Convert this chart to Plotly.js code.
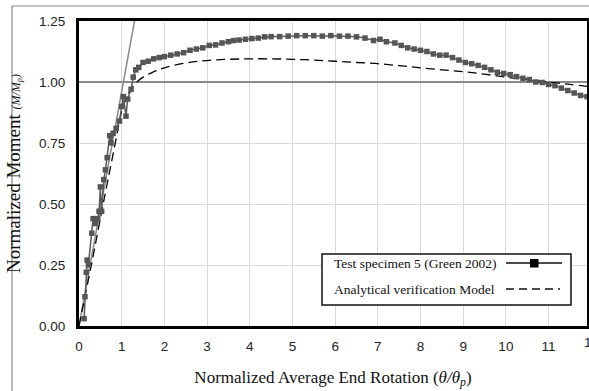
<!DOCTYPE html>
<html>
<head>
<meta charset="utf-8">
<script src="https://cdn.plot.ly/plotly-3.0.1.min.js"></script>
<style>html,body{margin:0;padding:0;background:#fff;}#chart{width:589px;height:391px;}</style>
</head>
<body>
<div id="chart"></div>
<script>
// Test specimen 5 (Green 2002)
const testX = [0.12, 0.14, 0.17, 0.19, 0.22, 0.30, 0.33, 0.38, 0.44, 0.47, 0.50, 0.53, 0.58, 0.62, 0.66, 0.72, 0.75, 0.80, 0.87, 0.95,
  1.00, 1.04, 1.10, 1.14, 1.22, 1.27, 1.33, 1.40, 1.50, 1.62, 1.75, 1.88, 2.00, 2.15, 2.30, 2.45, 2.60, 2.75, 2.90, 3.05,
  3.20, 3.35, 3.50, 3.62, 3.75, 3.90, 4.05, 4.20, 4.35, 4.50, 4.70, 4.90, 5.10, 5.30, 5.50, 5.70, 5.90, 6.10, 6.30, 6.50,
  6.70, 6.90, 7.05, 7.20, 7.40, 7.55, 7.70, 7.85, 8.00, 8.15, 8.30, 8.45, 8.60, 8.75, 8.90, 9.05, 9.20, 9.35, 9.50, 9.65,
  9.80, 9.95, 10.10, 10.25, 10.40, 10.55, 10.70, 10.85, 11.00, 11.15, 11.30, 11.45, 11.60, 11.75, 11.90];
const testY = [0.03, 0.12, 0.22, 0.27, 0.25, 0.38, 0.44, 0.42, 0.44, 0.47, 0.57, 0.47, 0.60, 0.64, 0.69, 0.78, 0.75, 0.79, 0.81, 0.84,
  0.90, 0.94, 0.86, 0.93, 0.97, 1.02, 1.05, 1.06, 1.08, 1.085, 1.095, 1.10, 1.104, 1.11, 1.115, 1.12, 1.13, 1.135, 1.14, 1.15,
  1.152, 1.16, 1.165, 1.17, 1.172, 1.175, 1.178, 1.18, 1.185, 1.186, 1.186, 1.188, 1.19, 1.19, 1.19, 1.188, 1.19, 1.188, 1.188, 1.185,
  1.18, 1.17, 1.175, 1.165, 1.16, 1.15, 1.14, 1.135, 1.13, 1.125, 1.115, 1.11, 1.11, 1.10, 1.09, 1.08, 1.075, 1.068, 1.06, 1.05,
  1.04, 1.035, 1.03, 1.022, 1.015, 1.01, 1.00, 0.998, 0.99, 0.985, 0.975, 0.965, 0.955, 0.945, 0.94];

// Analytical verification model
const modelX = [0, 0.3, 0.6, 0.85, 1.0, 1.15, 1.3, 1.5, 1.75, 2.0, 2.5, 3.0, 3.5, 4.0, 4.5, 5.0, 5.5, 6.0, 6.5, 7.0,
  7.5, 8.0, 8.5, 9.0, 9.5, 10.0, 10.5, 11.0, 11.5, 12.0];
const modelY = [0, 0.26, 0.53, 0.75, 0.88, 0.95, 0.99, 1.02, 1.042, 1.058, 1.078, 1.088, 1.093, 1.095, 1.095, 1.093, 1.09, 1.085, 1.08, 1.075,
  1.067, 1.058, 1.05, 1.042, 1.032, 1.02, 1.01, 1.0, 0.99, 0.98];

// Elastic stiffness line and plastic moment line
const elasticX = [0, 1.3];
const elasticY = [0, 1.25];
const plasticX = [0, 12];
const plasticY = [1.0, 1.0];

const xTicks = [0, 1, 2, 3, 4, 5, 6, 7, 8, 9, 10, 11, 12];
const yTicks = [0, 0.25, 0.5, 0.75, 1.0, 1.25];
const legendLabels = ['Test specimen 5 (Green 2002)', 'Analytical verification Model'];

const W = 589, H = 391, L = 79, R = 2, T = 21, B = 65;
const pw = W - L - R, ph = H - T - B;
const px = v => (v - L) / pw;
const py = v => (H - B - v) / ph;
const xMax = 11.9;

const traces = [
  {x: plasticX, y: plasticY, mode: 'lines', line: {color: '#8a8a8a', width: 2}, hoverinfo: 'skip', showlegend: false},
  {x: elasticX, y: elasticY, mode: 'lines', line: {color: '#8a8a8a', width: 1.5}, hoverinfo: 'skip', showlegend: false},
  {x: modelX, y: modelY, mode: 'lines', name: legendLabels[1], line: {color: '#000', width: 1.3, dash: '9px,5px', shape: 'spline'}, showlegend: false},
  {x: testX, y: testY, mode: 'lines+markers', name: legendLabels[0], line: {color: '#5a5a5a', width: 1.5},
    marker: {symbol: 'square', size: 5.5, color: '#555'}, showlegend: false}
];

const serif = '"Liberation Serif", "Times New Roman", serif';
const sans = '"Liberation Sans", Arial, sans-serif';

const layout = {
  width: W, height: H,
  margin: {l: L, r: R, t: T, b: B},
  paper_bgcolor: '#fff', plot_bgcolor: '#fff',
  showlegend: false,
  xaxis: {
    range: [0, xMax], tickvals: xTicks, ticktext: xTicks.map(String),
    showgrid: true, gridcolor: '#dadada', gridwidth: 1, zeroline: false,
    showline: true, linecolor: '#000', linewidth: 3, mirror: true,
    ticks: '', ticklabelstandoff: 6,
    tickfont: {family: sans, size: 13.5, color: '#222'},
    title: {text: 'Normalized Average End Rotation (<i>θ/θ<sub>p</sub></i>)', font: {family: serif, size: 17, color: '#111'}, standoff: 18},
    automargin: false
  },
  yaxis: {
    range: [0, 1.25], tickvals: yTicks, ticktext: yTicks.map(v => v.toFixed(2)),
    showgrid: true, gridcolor: '#dadada', gridwidth: 1, zeroline: false,
    showline: true, linecolor: '#000', linewidth: 3, mirror: true,
    ticks: '', ticklabelstandoff: 8,
    tickfont: {family: sans, size: 13.5, color: '#222'},
    title: {text: 'Normalized Moment <span style="font-size:12px"><i>(M/M<sub>p</sub>)</i></span>', font: {family: serif, size: 19, color: '#111'}, standoff: 14},
    automargin: false
  },
  shapes: [
    // outer figure frame
    {type: 'rect', xref: 'paper', yref: 'paper', x0: px(12), x1: px(600), y0: py(400), y1: py(6), line: {color: '#888', width: 1.2}, fillcolor: 'rgba(0,0,0,0)', layer: 'below'},
    // legend box
    {type: 'rect', xref: 'paper', yref: 'paper', x0: px(322), x1: px(571), y0: py(305), y1: py(254), line: {color: '#111', width: 1.5}, fillcolor: '#fff', layer: 'above'},
    // legend sample: test specimen line + marker
    {type: 'line', xref: 'paper', yref: 'paper', x0: px(506), x1: px(562), y0: py(263), y1: py(263), line: {color: '#111', width: 1.3}, layer: 'above'},
    {type: 'rect', xref: 'paper', yref: 'paper', x0: px(530), x1: px(538.5), y0: py(267.5), y1: py(259), line: {color: '#000', width: 0}, fillcolor: '#000', layer: 'above'},
    // legend sample: model dashed
    {type: 'line', xref: 'paper', yref: 'paper', x0: px(506), x1: px(560), y0: py(289), y1: py(289), line: {color: '#111', width: 1.3, dash: '8px,5px'}, layer: 'above'}
  ],
  annotations: [
    {xref: 'paper', yref: 'paper', x: px(332), y: py(263), xanchor: 'left', yanchor: 'middle', showarrow: false,
      text: legendLabels[0], font: {family: serif, size: 13.5, color: '#111'}},
    {xref: 'paper', yref: 'paper', x: px(332), y: py(289), xanchor: 'left', yanchor: 'middle', showarrow: false,
      text: legendLabels[1], font: {family: serif, size: 13.5, color: '#111'}},
    // last tick label, beyond the visible range (cut by the figure edge as in the original)
    {xref: 'paper', yref: 'paper', x: xTicks[12] / xMax, y: 0, xanchor: 'center', yanchor: 'top', yshift: -7, showarrow: false,
      text: String(xTicks[12]), font: {family: sans, size: 13.5, color: '#222'}}
  ]
};

Plotly.newPlot('chart', traces, layout, {staticPlot: true, displayModeBar: false});
</script>
</body>
</html>
